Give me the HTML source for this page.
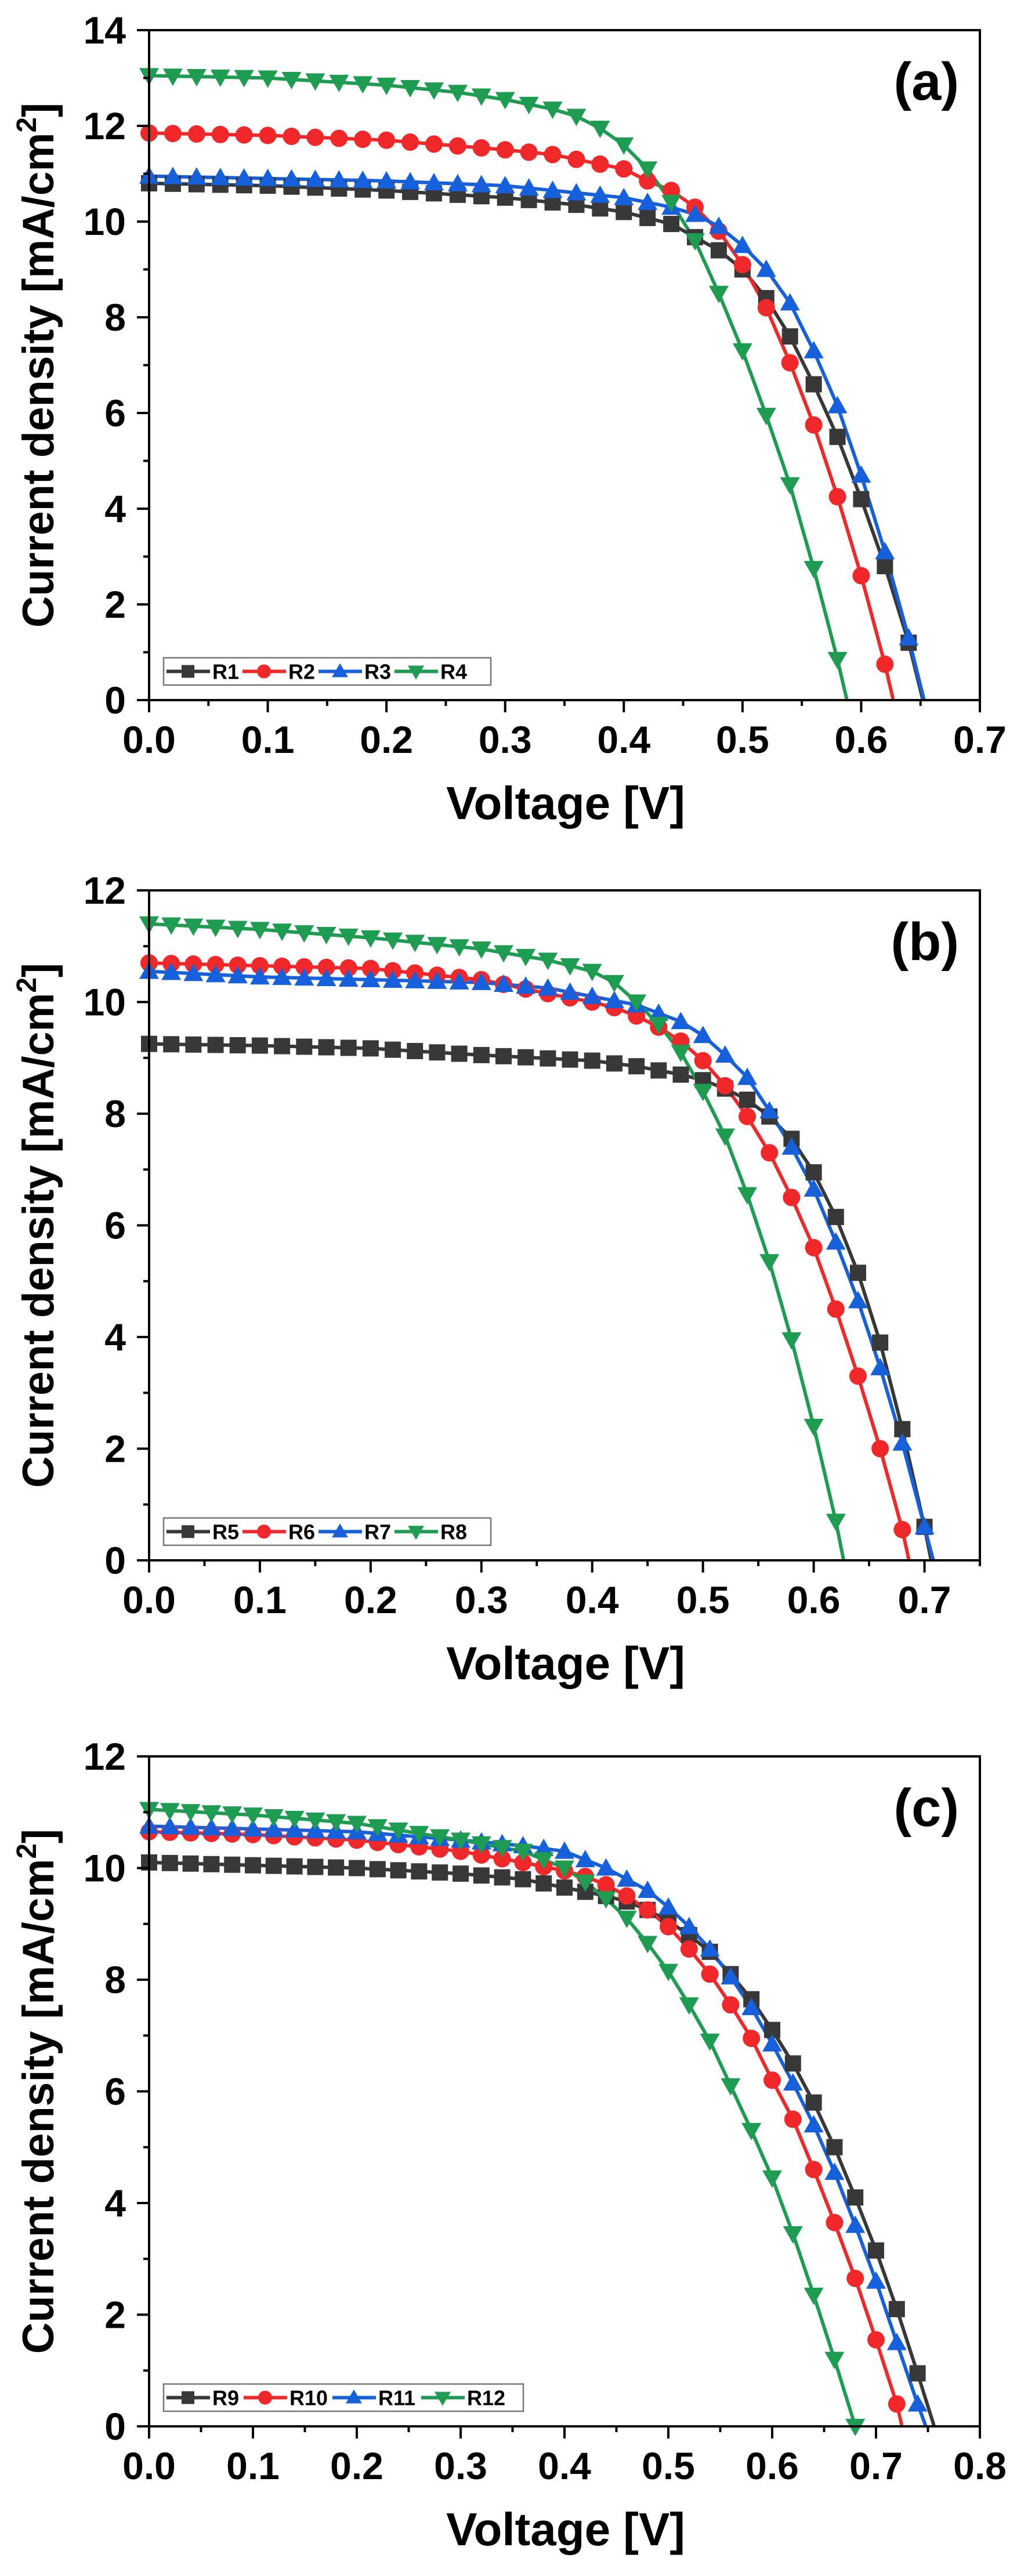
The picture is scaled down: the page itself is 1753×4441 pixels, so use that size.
<!DOCTYPE html>
<html><head><meta charset="utf-8"><style>
html,body{margin:0;padding:0;background:#fff;}
svg{display:block;}
text{font-family:"Liberation Sans",Arial,sans-serif;font-weight:bold;fill:#000;}
</style></head><body>
<svg id="s" width="1753" height="4441" xmlns="http://www.w3.org/2000/svg"></svg>
<script>
const S=document.getElementById('s');
let out='';
const L=257,R=1689,H=1155;
const COL={k:'#383838',r:'#f0282a',b:'#1660dc',g:'#1e9c52'};
const MK={k:'sq',r:'ci',b:'tu',g:'td'};
function marker(t,x,y,c,s){
  s=s||14;
  if(t==='sq')return `<rect x="${x-s}" y="${y-s}" width="${2*s}" height="${2*s}" fill="${c}"/>`;
  if(t==='ci')return `<circle cx="${x}" cy="${y}" r="${s+1}" fill="${c}"/>`;
  if(t==='tu')return `<polygon points="${x},${y-s-3} ${x+s+3},${y+s-1} ${x-s-3},${y+s-1}" fill="${c}"/>`;
  return `<polygon points="${x},${y+s+3} ${x+s+3},${y-s+1} ${x-s-3},${y-s+1}" fill="${c}"/>`;
}
function interp(pts,v){
  for(let i=0;i<pts.length-1;i++){if(v<=pts[i+1][0]+1e-9){const[a,b]=pts[i],[c,d]=pts[i+1];return b+(d-b)*(v-a)/(c-a);}}
  return pts[pts.length-1][1];
}
function panel(top,xmax,ymax,xt,label,series,names,legW){
  const X=v=>L+(R-L)*v/xmax, Y=j=>top+H-H*j/ymax, bot=top+H;
  series.forEach(([c,pts])=>{
    let d='';
    for(let v=0;v<=pts[pts.length-1][0]+1e-9;v+=0.005){d+=(d?'L':'M')+X(v).toFixed(1)+','+Y(interp(pts,v)).toFixed(1);}
    const vo=pts[pts.length-1][0];d+='L'+X(vo).toFixed(1)+','+Y(0).toFixed(1);
    out+=`<path d="${d}" fill="none" stroke="${COL[c]}" stroke-width="6"/>`;
  });
  series.forEach(([c,pts])=>{
    const vo=pts[pts.length-1][0];
    for(let v=0;v<=vo+1e-6;v+=0.02){const j=interp(pts,v);out+=marker(MK[c],X(v),Y(j),COL[c],14);}
  });
  out+=`<rect x="${L}" y="${top}" width="${R-L}" height="${H}" fill="none" stroke="#000" stroke-width="4"/>`;
  for(let j=0;j<=ymax;j++){const y=Y(j);const maj=j%2===0;
    out+=`<line x1="${L-(maj?21:10)}" y1="${y}" x2="${L}" y2="${y}" stroke="#000" stroke-width="4"/>`;
    if(maj)out+=`<text x="${L-40}" y="${y+23}" font-size="66" text-anchor="end">${j}</text>`;}
  for(let k=0;k<=Math.round(xmax/0.05);k++){const v=k*0.05;const x=X(v);const maj=k%2===0;
    out+=`<line x1="${x}" y1="${bot}" x2="${x}" y2="${bot+(maj?21:10)}" stroke="#000" stroke-width="4"/>`;}
  xt.forEach(v=>{out+=`<text x="${X(v)}" y="${bot+91}" font-size="66" text-anchor="middle">${v.toFixed(1)}</text>`;});
  out+=`<text x="975" y="${bot+205}" font-size="80" text-anchor="middle">Voltage [V]</text>`;
  const cy=top+H/2;
  out+=`<text transform="translate(92,${cy}) rotate(-90)" font-size="76" text-anchor="middle" textLength="905" lengthAdjust="spacingAndGlyphs">Current density [mA/cm<tspan font-size="48" dy="-30">2</tspan><tspan dy="30">]</tspan></text>`;
  out+=`<text x="1653" y="${top+120}" font-size="92" text-anchor="end">${label}</text>`;
  const ly0=bot-73,lh=47,lx=282;
  out+=`<rect x="${lx}" y="${ly0}" width="${legW}" height="${lh}" fill="#fff" stroke="#777" stroke-width="2.5"/>`;
  let x=lx+5;const ym=ly0+lh/2;
  series.forEach(([c],i)=>{
    out+=`<line x1="${x}" y1="${ym}" x2="${x+75}" y2="${ym}" stroke="${COL[c]}" stroke-width="6"/>`;
    out+=marker(MK[c],x+37,ym,COL[c],11);
    out+=`<text x="${x+79}" y="${ym+13}" font-size="36">${names[i]}</text>`;
    x+=79+(names[i].length>2?66:46)+(legW>600?8:6);
  });
}
panel(52,0.7,14,[0,.1,.2,.3,.4,.5,.6,.7],'(a)',[
 ['k',[[0,10.8],[0.1,10.75],[0.2,10.65],[0.3,10.5],[0.36,10.35],[0.4,10.2],[0.44,9.95],[0.48,9.4],[0.5,9.0],[0.52,8.4],[0.54,7.6],[0.56,6.6],[0.58,5.5],[0.6,4.2],[0.62,2.8],[0.64,1.2],[0.652,0]]],
 ['r',[[0,11.85],[0.1,11.8],[0.2,11.7],[0.3,11.5],[0.34,11.4],[0.38,11.2],[0.4,11.1],[0.42,10.85],[0.44,10.65],[0.46,10.3],[0.48,9.8],[0.5,9.1],[0.52,8.2],[0.54,7.05],[0.56,5.75],[0.58,4.25],[0.6,2.6],[0.62,0.75],[0.627,0]]],
 ['b',[[0,10.95],[0.1,10.9],[0.2,10.85],[0.3,10.75],[0.36,10.6],[0.4,10.5],[0.42,10.4],[0.44,10.3],[0.46,10.15],[0.48,9.9],[0.5,9.5],[0.52,9.0],[0.54,8.3],[0.56,7.3],[0.58,6.15],[0.6,4.7],[0.62,3.1],[0.64,1.3],[0.653,0]]],
 ['g',[[0,13.05],[0.1,13.0],[0.2,12.85],[0.26,12.7],[0.3,12.55],[0.34,12.35],[0.36,12.2],[0.38,11.95],[0.4,11.6],[0.42,11.1],[0.44,10.4],[0.46,9.6],[0.48,8.5],[0.5,7.3],[0.52,5.95],[0.54,4.5],[0.56,2.75],[0.58,0.85],[0.588,0]]]
],['R1','R2','R3','R4'],564);
panel(1535,0.75,12,[0,.1,.2,.3,.4,.5,.6,.7],'(b)',[
 ['k',[[0,9.25],[0.1,9.22],[0.2,9.17],[0.3,9.05],[0.4,8.95],[0.44,8.85],[0.48,8.7],[0.5,8.6],[0.52,8.45],[0.54,8.25],[0.56,7.95],[0.58,7.55],[0.6,6.95],[0.62,6.15],[0.64,5.15],[0.66,3.9],[0.68,2.35],[0.7,0.6],[0.706,0]]],
 ['r',[[0,10.7],[0.1,10.65],[0.2,10.6],[0.3,10.4],[0.36,10.15],[0.4,10.0],[0.42,9.9],[0.44,9.75],[0.46,9.55],[0.48,9.3],[0.5,8.95],[0.52,8.5],[0.54,7.95],[0.56,7.3],[0.58,6.5],[0.6,5.6],[0.62,4.5],[0.64,3.3],[0.66,2.0],[0.68,0.55],[0.686,0]]],
 ['b',[[0,10.55],[0.1,10.45],[0.2,10.4],[0.3,10.35],[0.36,10.25],[0.4,10.1],[0.44,9.95],[0.46,9.8],[0.48,9.65],[0.5,9.4],[0.52,9.05],[0.54,8.65],[0.56,8.05],[0.58,7.4],[0.6,6.65],[0.62,5.7],[0.64,4.65],[0.66,3.45],[0.68,2.1],[0.7,0.6],[0.708,0]]],
 ['g',[[0,11.4],[0.1,11.3],[0.2,11.15],[0.3,10.95],[0.36,10.75],[0.4,10.55],[0.42,10.35],[0.44,10.0],[0.46,9.6],[0.48,9.1],[0.5,8.4],[0.52,7.6],[0.54,6.55],[0.56,5.35],[0.58,3.95],[0.6,2.4],[0.62,0.7],[0.627,0]]]
],['R5','R6','R7','R8'],564);
panel(3028,0.8,12,[0,.1,.2,.3,.4,.5,.6,.7,.8],'(c)',[
 ['k',[[0,10.1],[0.1,10.05],[0.2,10.0],[0.3,9.9],[0.36,9.8],[0.4,9.65],[0.44,9.5],[0.46,9.4],[0.48,9.25],[0.5,9.05],[0.52,8.8],[0.54,8.5],[0.56,8.1],[0.58,7.65],[0.6,7.1],[0.62,6.5],[0.64,5.8],[0.66,5.0],[0.68,4.1],[0.7,3.15],[0.72,2.1],[0.74,0.95],[0.756,0]]],
 ['r',[[0,10.65],[0.1,10.6],[0.2,10.5],[0.3,10.3],[0.36,10.1],[0.4,9.95],[0.42,9.85],[0.44,9.7],[0.46,9.5],[0.48,9.25],[0.5,8.95],[0.52,8.55],[0.54,8.1],[0.56,7.55],[0.58,6.95],[0.6,6.2],[0.62,5.5],[0.64,4.6],[0.66,3.65],[0.68,2.65],[0.7,1.55],[0.72,0.4],[0.725,0]]],
 ['b',[[0,10.75],[0.1,10.7],[0.2,10.65],[0.3,10.5],[0.36,10.4],[0.4,10.3],[0.42,10.15],[0.44,10.0],[0.46,9.8],[0.48,9.6],[0.5,9.3],[0.52,8.95],[0.54,8.55],[0.56,8.05],[0.58,7.5],[0.6,6.85],[0.62,6.15],[0.64,5.4],[0.66,4.55],[0.68,3.6],[0.7,2.6],[0.72,1.5],[0.74,0.4],[0.748,0]]],
 ['g',[[0,11.05],[0.1,10.95],[0.2,10.8],[0.3,10.5],[0.36,10.3],[0.4,10.0],[0.42,9.75],[0.44,9.45],[0.46,9.1],[0.48,8.65],[0.5,8.15],[0.52,7.55],[0.54,6.9],[0.56,6.1],[0.58,5.3],[0.6,4.45],[0.62,3.45],[0.64,2.35],[0.66,1.2],[0.68,0]]]
],['R9','R10','R11','R12'],620);
S.innerHTML=out;
</script>
</body></html>
